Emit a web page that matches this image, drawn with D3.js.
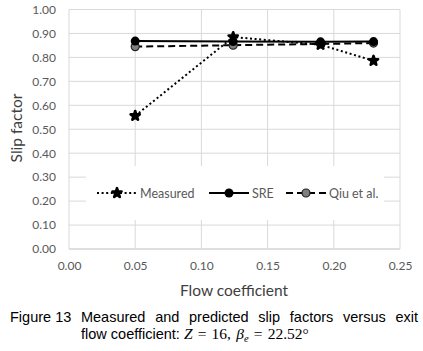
<!DOCTYPE html>
<html>
<head>
<meta charset="utf-8">
<script src="https://cdn.jsdelivr.net/npm/d3@7"></script>
<style>
    body { margin: 0; background: #fff; }
    svg { display: block; }
</style>
</head>
<body>
<div id="chart"></div>
<script>
    // data
    var xMeasured = [0.05, 0.124, 0.19, 0.23];
    var yMeasured = [0.556, 0.885, 0.853, 0.786];
    var xSRE = [0.05, 0.124, 0.19, 0.23];
    var ySRE = [0.868, 0.866, 0.865, 0.866];
    var xQiu = [0.05, 0.124, 0.19, 0.23];
    var yQiu = [0.845, 0.851, 0.856, 0.860];
    var xTicks = [0, 0.05, 0.10, 0.15, 0.20, 0.25];
    var yTicks = [0, 0.1, 0.2, 0.3, 0.4, 0.5, 0.6, 0.7, 0.8, 0.9, 1.0];

    var W = 423, H = 351;
    var svg = d3.select("#chart").append("svg")
        .attr("width", W).attr("height", H);

    var x = d3.scaleLinear().domain([0, 0.25]).range([69, 400]);
    var y = d3.scaleLinear().domain([0, 1]).range([249, 9.5]);
    var font = "Lato, 'Open Sans', sans-serif";

    // gridlines
    svg.append("g").selectAll("line").data(yTicks).enter().append("line")
        .attr("x1", x(0)).attr("x2", x(0.25))
        .attr("y1", function (d) { return y(d); }).attr("y2", function (d) { return y(d); })
        .attr("stroke", function (d) { return d === 0 ? "#bfbfbf" : "#d9d9d9"; })
        .attr("stroke-width", 1);
    svg.append("g").selectAll("line").data(xTicks).enter().append("line")
        .attr("y1", y(0)).attr("y2", y(1))
        .attr("x1", function (d) { return x(d); }).attr("x2", function (d) { return x(d); })
        .attr("stroke", "#d9d9d9").attr("stroke-width", 1);

    // axes (labels only)
    var yAxis = svg.append("g").attr("transform", "translate(" + x(0) + ",0)")
        .call(d3.axisLeft(y).tickValues(yTicks).tickFormat(d3.format(".2f")).tickSize(0).tickPadding(13));
    var xAxis = svg.append("g").attr("transform", "translate(0," + y(0) + ")")
        .call(d3.axisBottom(x).tickValues(xTicks).tickFormat(d3.format(".2f")).tickSize(0).tickPadding(12));
    [xAxis, yAxis].forEach(function (a) {
        a.select(".domain").remove();
        a.selectAll("text").attr("fill", "#595959").style("font-family", font).style("font-size", "12px");
    });

    // axis titles
    svg.append("text").attr("x", 234).attr("y", 296).attr("text-anchor", "middle")
        .attr("fill", "#404040").style("font-family", font).style("font-size", "15.5px")
        .text("Flow coefficient");
    svg.append("text").attr("transform", "translate(22,128) rotate(-90)").attr("text-anchor", "middle")
        .attr("fill", "#404040").style("font-family", font).style("font-size", "15.5px")
        .text("Slip factor");

    // series
    var series = [
        { name: "Measured", xs: xMeasured, ys: yMeasured, dash: "2,2.6", marker: "star" },
        { name: "SRE", xs: xSRE, ys: ySRE, dash: null, marker: "dot" },
        { name: "Qiu et al.", xs: xQiu, ys: yQiu, dash: "7,4", marker: "grey" }
    ];

    var line = d3.line().x(function (d) { return x(d[0]); }).y(function (d) { return y(d[1]); });

    function drawMarker(g, type, px, py) {
        if (type === "star") {
            g.append("path").attr("d", d3.symbol().type(d3.symbolStar).size(26)())
                .attr("transform", "translate(" + px + "," + py + ")")
                .attr("fill", "#000").attr("stroke", "#000").attr("stroke-width", 2.6)
                .attr("stroke-linejoin", "round");
        } else if (type === "dot") {
            g.append("circle").attr("cx", px).attr("cy", py).attr("r", 4.5).attr("fill", "#000");
        } else {
            g.append("circle").attr("cx", px).attr("cy", py).attr("r", 4)
                .attr("fill", "#7f7f7f").attr("stroke", "#222").attr("stroke-width", 1.2);
        }
    }

    // draw Qiu first, Measured, then SRE on top
    var order = [2, 0, 1];
    order.forEach(function (i) {
        var s = series[i];
        var pts = s.xs.map(function (v, k) { return [v, s.ys[k]]; });
        var g = svg.append("g");
        g.append("path").attr("d", line(pts)).attr("fill", "none")
            .attr("stroke", "#000").attr("stroke-width", 2)
            .attr("stroke-dasharray", s.dash);
        pts.forEach(function (p) { drawMarker(g, s.marker, x(p[0]), y(p[1])); });
    });

    // legend
    var lg = svg.append("g");
    lg.append("rect").attr("x", 86).attr("y", 166).attr("width", 298).attr("height", 54).attr("fill", "#fff");
    var legendX = [97, 209, 286];
    var ly = 193;
    series.forEach(function (s, i) {
        var lx = legendX[i];
        lg.append("line").attr("x1", lx).attr("x2", lx + 40).attr("y1", ly).attr("y2", ly)
            .attr("stroke", "#000").attr("stroke-width", 2).attr("stroke-dasharray", s.dash);
        drawMarker(lg, s.marker, lx + 20, ly);
        lg.append("text").attr("x", lx + 43).attr("y", ly + 4.5)
            .attr("fill", "#595959").style("font-family", font).style("font-size", "12.5px")
            .text(s.name);
    });

    // caption
    var cap = svg.append("g").style("font-family", "'Liberation Sans', Arial, sans-serif")
        .style("font-size", "14.5px").attr("fill", "#000");
    // line 1 is justified from x=10 to x=418: place the words one by one
    var words = ["Figure 13", "Measured", "and", "predicted", "slip", "factors", "versus", "exit"];
    var wordNodes = words.map(function (w) {
        return cap.append("text").attr("y", 322).text(w);
    });
    var widths = wordNodes.map(function (n) { return n.node().getComputedTextLength(); });
    var gap = (408 - d3.sum(widths)) / (words.length - 1);
    var cx = 10;
    wordNodes.forEach(function (n, i) {
        n.attr("x", cx);
        cx += widths[i] + gap;
    });
    var math = "'Liberation Serif', serif";
    var sp = "\u2004";
    var t2 = cap.append("text").attr("x", 81).attr("y", 339);
    t2.append("tspan").text("flow coefficient: ");
    t2.append("tspan").style("font-family", math).style("font-style", "italic").style("font-size", "15.5px").text("Z");
    t2.append("tspan").style("font-family", math).style("font-size", "15.5px").text(sp + "=" + sp + "16," + sp);
    t2.append("tspan").style("font-family", math).style("font-style", "italic").style("font-size", "15.5px").text("β");
    t2.append("tspan").style("font-family", math).style("font-style", "italic")
        .style("font-size", "10.5px").attr("dy", 3).text("e");
    t2.append("tspan").style("font-family", math).style("font-size", "15.5px").attr("dy", -3)
        .text(sp + "=" + sp + "22.52°");
</script>
</body>
</html>
